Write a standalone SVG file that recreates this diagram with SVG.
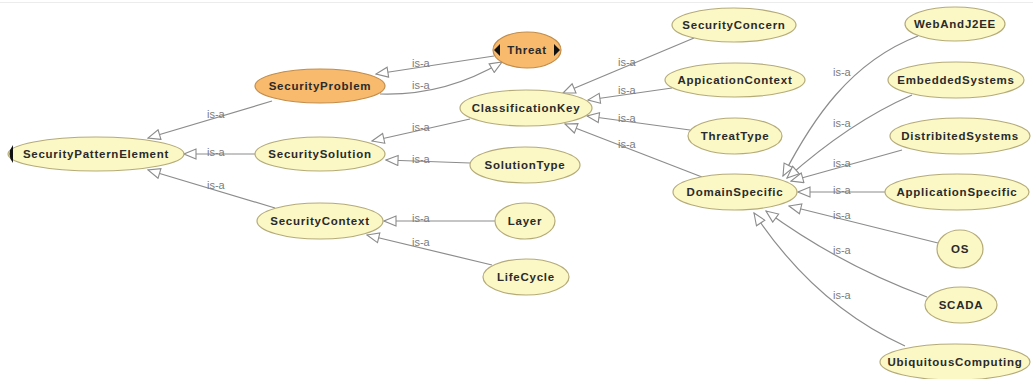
<svg xmlns="http://www.w3.org/2000/svg" width="1033" height="379" viewBox="0 0 1033 379">
<style>
.n ellipse{fill:#fbf8c6;stroke:#b5ab78;stroke-width:1.2}
.o ellipse{fill:#f8ba6c;stroke:#c28d4c;stroke-width:1.2}
.n text,.o text{font-family:"Liberation Sans",Arial,sans-serif;font-size:11.5px;font-weight:bold;fill:#2a2a2a;text-anchor:middle;letter-spacing:0.75px}
.e path{fill:none;stroke:#8c8c8c;stroke-width:1.2;marker-end:url(#tri)}
.e text{font-family:"Liberation Sans",Arial,sans-serif;font-size:11px;fill:#7c7c7c}
</style>
<defs>
<marker id="tri" markerUnits="userSpaceOnUse" markerWidth="14" markerHeight="12" refX="13" refY="6" orient="auto">
<path d="M1,1 L13,6 L1,11 Z" fill="#ffffff" stroke="#8c8c8c" stroke-width="1.1"/>
</marker>
</defs>
<rect width="1033" height="379" fill="#ffffff"/>
<line x1="0" y1="2.5" x2="1033" y2="2.5" stroke="#ececec" stroke-width="1"/>
<g id="connectors" class="e">
<path d="M272,101 L148,138"/><text x="207" y="118">is-a</text>
<path d="M255,154 L184,154"/><text x="207" y="156">is-a</text>
<path d="M275,208 L148,170"/><text x="207" y="189">is-a</text>
<path d="M494,56 L376,74"/><text x="412" y="67">is-a</text>
<path d="M380,94 Q445,96 502,62"/><text x="412" y="89">is-a</text>
<path d="M470,119 L372,141"/><text x="412" y="131">is-a</text>
<path d="M470,163 L386,160"/><text x="412" y="163">is-a</text>
<path d="M495,221 L384,221"/><text x="412" y="222">is-a</text>
<path d="M492,265 L367,235"/><text x="412" y="246">is-a</text>
<path d="M694,38 L563,93"/><text x="618" y="66">is-a</text>
<path d="M672,88 L588,100"/><text x="618" y="94">is-a</text>
<path d="M690,130 L587,116"/><text x="618" y="122">is-a</text>
<path d="M702,177 L565,124"/><text x="618" y="148">is-a</text>
<path d="M918,36 C850,62 812,120 783,176"/><text x="833" y="76">is-a</text>
<path d="M912,95 Q850,122 787,178"/><text x="833" y="127">is-a</text>
<path d="M902,150 L791,181"/><text x="833" y="167">is-a</text>
<path d="M885,192 L798,192"/><text x="833" y="194">is-a</text>
<path d="M938,243 L789,206"/><text x="833" y="219">is-a</text>
<path d="M927,297 Q840,265 766,211"/><text x="833" y="254">is-a</text>
<path d="M905,346 Q815,305 754,213"/><text x="833" y="299">is-a</text>
</g>
<g id="SecurityPatternElement" class="n"><ellipse cx="96" cy="154" rx="88" ry="17"/><path d="M13,145 Q6,154 13,163 Z" fill="#111"/><text x="96" y="158">SecurityPatternElement</text></g>
<g id="SecurityProblem" class="o"><ellipse cx="320" cy="86" rx="65" ry="17"/><text x="320" y="90">SecurityProblem</text></g>
<g id="SecuritySolution" class="n"><ellipse cx="320" cy="154" rx="65" ry="17"/><text x="320" y="158">SecuritySolution</text></g>
<g id="SecurityContext" class="n"><ellipse cx="320" cy="221" rx="63" ry="18"/><text x="320" y="225">SecurityContext</text></g>
<g id="Threat" class="o"><ellipse cx="527" cy="50" rx="34" ry="18"/><path d="M500,44 L494,50 L500,56 Z M554,44 L560,50 L554,56 Z" fill="#111"/><text x="527" y="54">Threat</text></g>
<g id="ClassificationKey" class="n"><ellipse cx="526" cy="108" rx="66" ry="18"/><text x="526" y="112">ClassificationKey</text></g>
<g id="SolutionType" class="n"><ellipse cx="525" cy="165" rx="55" ry="18"/><text x="525" y="169">SolutionType</text></g>
<g id="Layer" class="n"><ellipse cx="525" cy="221" rx="30" ry="18"/><text x="525" y="225">Layer</text></g>
<g id="LifeCycle" class="n"><ellipse cx="526" cy="277" rx="43" ry="18"/><text x="526" y="281">LifeCycle</text></g>
<g id="SecurityConcern" class="n"><ellipse cx="734" cy="25" rx="62" ry="17"/><text x="734" y="29">SecurityConcern</text></g>
<g id="AppicationContext" class="n"><ellipse cx="735" cy="80" rx="70" ry="17"/><text x="735" y="84">AppicationContext</text></g>
<g id="ThreatType" class="n"><ellipse cx="735" cy="136" rx="47" ry="18"/><text x="735" y="140">ThreatType</text></g>
<g id="DomainSpecific" class="n"><ellipse cx="735" cy="192" rx="62" ry="18"/><text x="735" y="196">DomainSpecific</text></g>
<g id="WebAndJ2EE" class="n"><ellipse cx="955" cy="24" rx="50" ry="17"/><text x="955" y="28">WebAndJ2EE</text></g>
<g id="EmbeddedSystems" class="n"><ellipse cx="956" cy="80" rx="68" ry="18"/><text x="956" y="84">EmbeddedSystems</text></g>
<g id="DistribitedSystems" class="n"><ellipse cx="960" cy="136" rx="70" ry="18"/><text x="960" y="140">DistribitedSystems</text></g>
<g id="ApplicationSpecific" class="n"><ellipse cx="957" cy="192" rx="72" ry="18"/><text x="957" y="196">ApplicationSpecific</text></g>
<g id="OS" class="n"><ellipse cx="960" cy="249" rx="23" ry="19"/><text x="960" y="253">OS</text></g>
<g id="SCADA" class="n"><ellipse cx="961" cy="305" rx="36" ry="18"/><text x="961" y="309">SCADA</text></g>
<g id="UbiquitousComputing" class="n"><ellipse cx="955" cy="362" rx="75" ry="18"/><text x="955" y="366">UbiquitousComputing</text></g>
</svg>
